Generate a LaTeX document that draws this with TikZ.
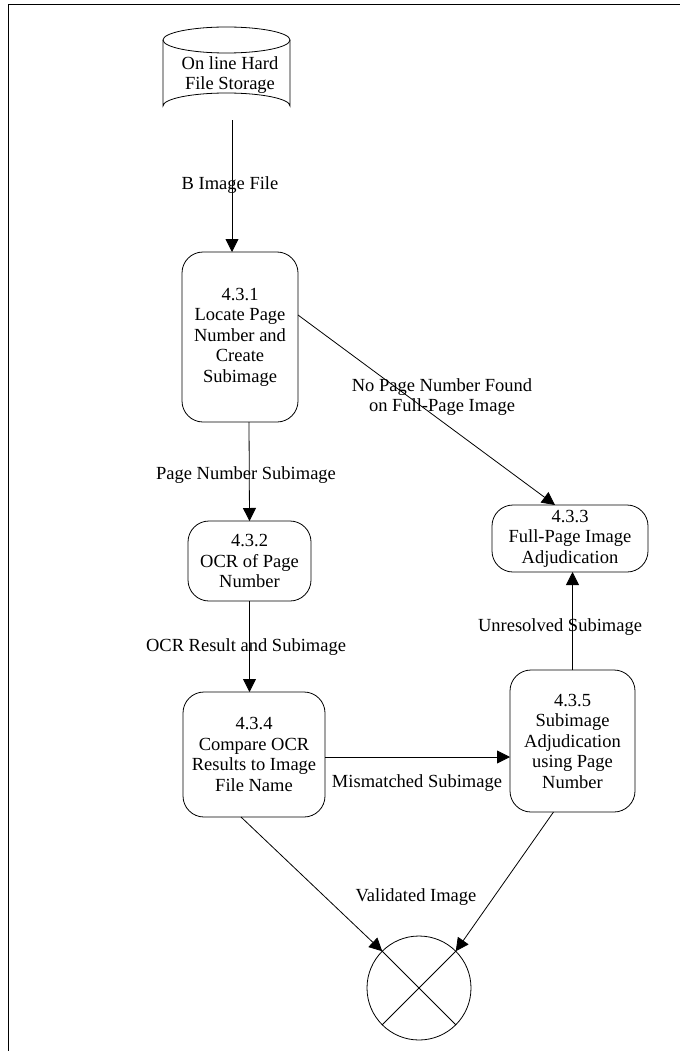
\documentclass[tikz,border=0pt]{standalone}
\usepackage{fontspec}
\setmainfont{Liberation Serif}
\usetikzlibrary{arrows.meta}
\begin{document}
\begin{tikzpicture}[x=1pt,y=-1pt,
  line width=0.8pt,
  txt/.style={font=\fontsize{18.5}{20.5}\selectfont, align=center, inner sep=0pt},
  proc/.style={draw, rounded corners=21pt, txt, outer sep=0pt},
  arr/.style={-{Triangle[length=13pt,width=13pt]}}]
\useasboundingbox (0,0) rectangle (680,1051);
% frame
\draw (8.5,1051) -- (8.5,4.5) -- (680,4.5);
% storage cylinder
\draw (163,40) -- (163,106) arc[start angle=180,end angle=360,x radius=63.5,y radius=13] -- (290,40);
\draw (226.5,40) ellipse[x radius=63.5,y radius=13];
\node[txt, minimum width=127pt, minimum height=93pt] (store) at (226.5,73.5) {};
\node[txt] (storetext) at (230,75) {On line Hard\\File Storage};
% processes
\node[proc, minimum width=116pt, minimum height=170pt] (n431) at (240,337) {4.3.1\\Locate Page\\Number and\\Create\\Subimage};
\node[proc, minimum width=123pt, minimum height=80pt] (n432) at (249.5,561) {4.3.2\\OCR of Page\\Number};
\node[proc, minimum width=156pt, minimum height=67pt] (n433) at (570,538.5) {4.3.3\\Full-Page Image\\Adjudication};
\node[proc, minimum width=142pt, minimum height=125pt] (n434) at (254,754.5) {4.3.4\\Compare OCR\\Results to Image\\File Name};
\node[proc, minimum width=125pt, minimum height=142pt] (n435) at (572.5,741) {4.3.5\\Subimage\\Adjudication\\using Page\\Number};
% sink
\node[draw, circle, minimum size=104pt, inner sep=0pt, outer sep=0pt] (sink) at (419,988) {};
\draw (sink.45) -- (sink.225);
\draw (sink.135) -- (sink.315);
% connectors
\draw[arr] ([xshift=5.5pt]store.south) -- ([xshift=-8pt]n431.north);
\node[txt] (l1) at (230,185) {B Image File};
\draw[arr] ([xshift=9pt]n431.south) -- (n432.north);
\node[txt] (l2) at (246,475) {Page Number Subimage};
\draw[arr] (n432.south) -- (n432.south |- n434.north);
\node[txt] (l3) at (246,647) {OCR Result and Subimage};
\draw[arr] ([yshift=22pt]n431.east) -- ([xshift=-15pt]n433.north);
\node[txt] (l4) at (442,397) {No Page Number Found\\on Full-Page Image};
\coordinate (m1) at ([yshift=-2.5pt]n434.east);
\draw[arr] (m1) -- (m1 -| n435.west);
\node[txt] (l5) at (417,783) {Mismatched Subimage};
\draw[arr] (n435.north) -- (n435.north |- n433.south);
\node[txt] (l6) at (560,627) {Unresolved Subimage};
\draw[arr] ([xshift=-13pt]n434.south) -- (sink.135);
\draw[arr] ([xshift=-19pt]n435.south) -- (sink.45);
\node[txt] (l7) at (416,897) {Validated Image};
\end{tikzpicture}
\end{document}
